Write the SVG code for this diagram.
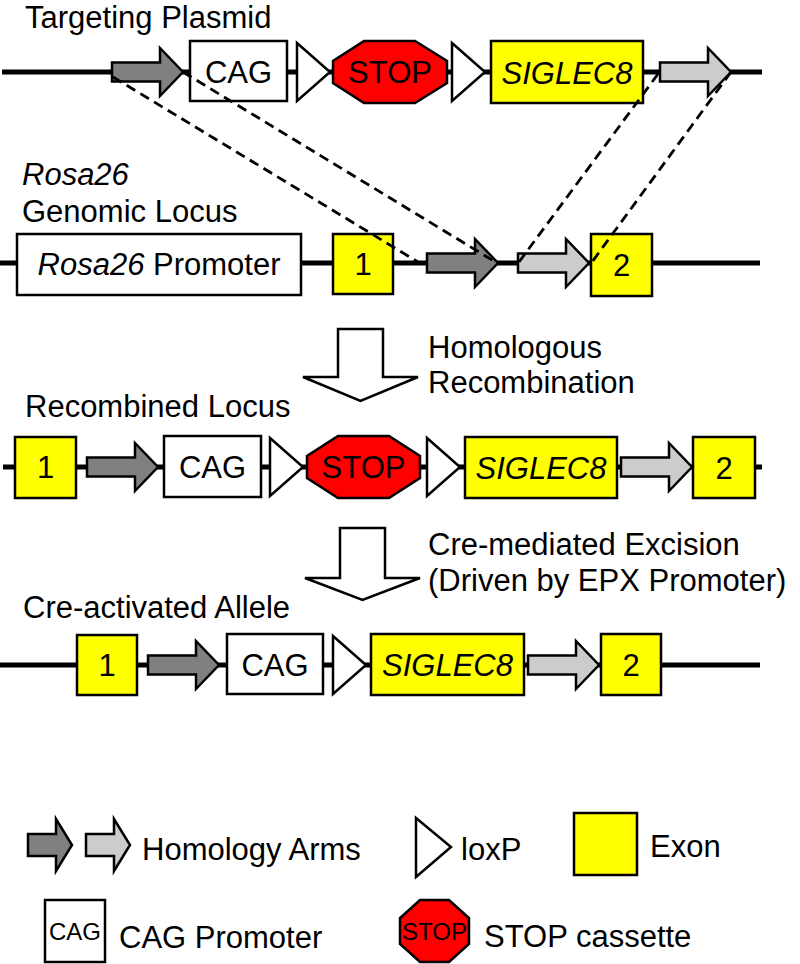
<svg xmlns="http://www.w3.org/2000/svg" width="800" height="964" viewBox="0 0 800 964">
<style>
text{font-family:"Liberation Sans",Arial,sans-serif;font-size:31px;fill:#000}
.c{text-anchor:middle}
.i{font-style:italic}
.bb{stroke:#000;stroke-width:5;fill:none}
.box{fill:#fff;stroke:#000;stroke-width:2.5}
.exon{fill:#ffff00;stroke:#000;stroke-width:2.5}
.stop{fill:#ff0000;stroke:#000;stroke-width:2.5}
.lox{fill:#fff;stroke:#000;stroke-width:2.5}
.dark{fill:#808080;stroke:#000;stroke-width:2.5}
.light{fill:#cccccc;stroke:#000;stroke-width:2.5}
.dash{stroke:#000;stroke-width:2.8;stroke-dasharray:10 6;fill:none}
.big{fill:#fff;stroke:#000;stroke-width:2.5}
.sm{font-size:24px}
</style>
<defs>
<path id="arm" d="M0,-9.5 H48 V-24 L71,0 L48,24 V9.5 H0 Z"/>
<path id="armL" d="M0,-11 H28 V-26 L44,0 L28,26 V11 H0 Z"/>
<path id="lox" d="M0,-29 L33,0 L0,29 Z"/>
</defs>

<!-- labels -->
<g id="labels">
<text x="25" y="28">Targeting Plasmid</text>
<text x="22" y="185" class="i">Rosa26</text>
<text x="22" y="222">Genomic Locus</text>
<text x="428" y="358">Homologous</text>
<text x="428" y="393">Recombination</text>
<text x="25" y="417">Recombined Locus</text>
<text x="428" y="555">Cre-mediated Excision</text>
<text x="428" y="591">(Driven by EPX Promoter)</text>
<text x="23" y="618">Cre-activated Allele</text>
</g>

<!-- backbones -->
<g id="backbones">
<line class="bb" x1="2" y1="72" x2="762" y2="72"/>
<line class="bb" x1="0" y1="263" x2="760" y2="263"/>
<line class="bb" x1="3" y1="467" x2="762" y2="467"/>
<line class="bb" x1="0" y1="665" x2="760" y2="665"/>
</g>

<!-- Row 1: targeting plasmid -->
<g id="plasmid">
<use href="#arm" class="dark" transform="translate(112,72)"/>
<g id="p-cag"><rect class="box" x="190" y="41" width="97" height="60"/><text class="c" x="238.5" y="83">CAG</text></g>
<use href="#lox" class="lox" transform="translate(297,72)"/>
<g id="p-stop"><polygon class="stop" points="364,41 415,41 447,61 447,83 415,103 364,103 333,83 333,61"/><text class="c" x="390" y="83">STOP</text></g>
<use href="#lox" class="lox" transform="translate(452,72)"/>
<g id="p-siglec8"><rect class="exon" x="491" y="41" width="152" height="62"/><text class="c i" x="567" y="84">SIGLEC8</text></g>
<use href="#arm" class="light" transform="translate(660,72)"/>
</g>

<!-- Row 2: genomic locus -->
<g id="genomic">
<g id="g-prom"><rect class="box" x="17" y="234" width="284" height="61"/><text class="c" x="159" y="275"><tspan class="i">Rosa26</tspan> Promoter</text></g>
<g id="g-ex1"><rect class="exon" x="333" y="234" width="60" height="60"/><text class="c" x="363" y="275">1</text></g>
<use href="#arm" class="dark" transform="translate(427,263)"/>
<use href="#arm" class="light" transform="translate(518,263)"/>
<g id="g-ex2"><rect class="exon" x="591" y="234" width="61" height="62"/><text class="c" x="621.5" y="276">2</text></g>
</g>

<!-- Row 3: recombined locus -->
<g id="recombined">
<g id="r-ex1"><rect class="exon" x="15" y="437" width="61" height="61"/><text class="c" x="45.5" y="478">1</text></g>
<use href="#arm" class="dark" transform="translate(87,467)"/>
<g id="r-cag"><rect class="box" x="164" y="436" width="97" height="61"/><text class="c" x="212.5" y="478">CAG</text></g>
<use href="#lox" class="lox" transform="translate(270,467)"/>
<g id="r-stop"><polygon class="stop" points="338,436 389,436 420,456 420,478 389,498 338,498 307,478 307,456"/><text class="c" x="363.5" y="478">STOP</text></g>
<use href="#lox" class="lox" transform="translate(427,467)"/>
<g id="r-siglec8"><rect class="exon" x="465" y="437" width="152" height="61"/><text class="c i" x="541" y="479">SIGLEC8</text></g>
<use href="#arm" class="light" transform="translate(621,467)"/>
<g id="r-ex2"><rect class="exon" x="693" y="437" width="62" height="61"/><text class="c" x="724" y="479">2</text></g>
</g>

<!-- Row 4: cre-activated allele -->
<g id="activated">
<g id="a-ex1"><rect class="exon" x="77" y="635" width="60" height="60"/><text class="c" x="107" y="676">1</text></g>
<use href="#arm" class="dark" transform="translate(148,665)"/>
<g id="a-cag"><rect class="box" x="227" y="634" width="96" height="60"/><text class="c" x="275" y="676">CAG</text></g>
<use href="#lox" class="lox" transform="translate(333,665)"/>
<g id="a-siglec8"><rect class="exon" x="371" y="634" width="153" height="61"/><text class="c i" x="447.5" y="676">SIGLEC8</text></g>
<use href="#arm" class="light" transform="translate(528,665)"/>
<g id="a-ex2"><rect class="exon" x="601" y="634" width="60" height="61"/><text class="c" x="631" y="676">2</text></g>
</g>

<!-- connectors -->
<g id="connectors">
<line class="dash" x1="113" y1="77" x2="418" y2="262"/>
<line class="dash" x1="183" y1="72" x2="497" y2="263"/>
<line class="dash" x1="658" y1="74" x2="519" y2="262"/>
<line class="dash" x1="731" y1="72" x2="592" y2="262"/>
<polygon id="step1" class="big" points="338,329 383,329 383,377 418,377 360.5,401 303,377 338,377"/>
<polygon id="step2" class="big" points="340,528 385,528 385,578 420,578 362.5,600 305,578 340,578"/>
</g>

<!-- legend -->
<g id="legend">
<g id="lg-arms">
<use href="#armL" class="dark" transform="translate(28,845)"/>
<use href="#armL" class="light" transform="translate(86,845)"/>
<text x="142" y="860">Homology Arms</text>
</g>
<g id="lg-lox">
<polygon class="lox" points="416,818 451,847 416,877"/>
<text x="461" y="860">loxP</text>
</g>
<g id="lg-exon">
<rect class="exon" x="574" y="813" width="63" height="62"/>
<text x="650" y="857">Exon</text>
</g>
<g id="lg-cag">
<rect class="box" x="45" y="900" width="60" height="62"/>
<text class="c sm" x="75" y="940">CAG</text>
<text x="119" y="948">CAG Promoter</text>
</g>
<g id="lg-stop">
<polygon class="stop" points="420,900 449,900 469,918 469,944 449,962 420,962 400,944 400,918"/>
<text class="c sm" x="434.5" y="940">STOP</text>
<text x="484" y="947">STOP cassette</text>
</g>
</g>
</svg>
